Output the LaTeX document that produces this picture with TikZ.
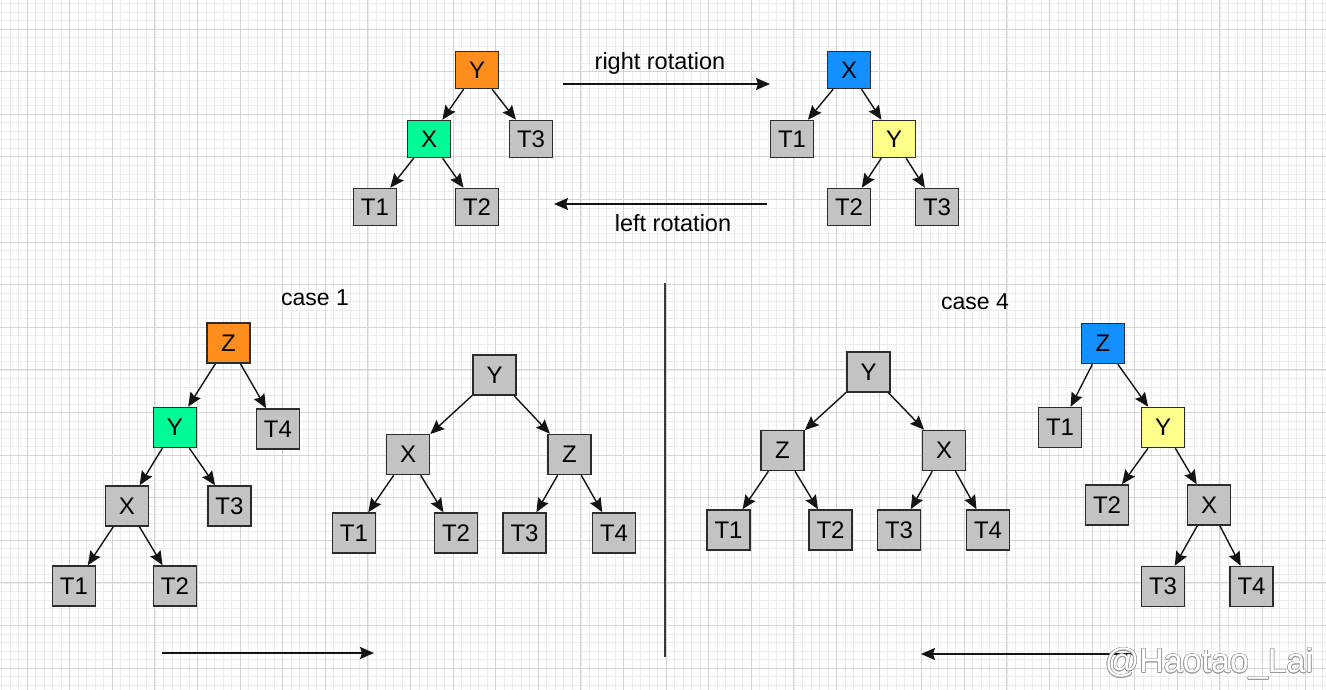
\documentclass[tikz,border=0pt]{standalone}
\usepackage{fontspec}
\setmainfont{Liberation Sans}
\usepackage{contour}
\usetikzlibrary{arrows.meta}
\definecolor{minorgrid}{RGB}{236,236,236}
\definecolor{majorgrid}{RGB}{212,212,212}
\definecolor{boxgray}{RGB}{195,195,195}
\definecolor{boxorange}{RGB}{255,142,30}
\definecolor{boxgreen}{RGB}{0,250,150}
\definecolor{boxblue}{RGB}{18,144,255}
\definecolor{boxyellow}{RGB}{255,255,140}
\definecolor{edgeblack}{RGB}{20,20,20}
\begin{document}
\begin{tikzpicture}[x=1pt,y=-1pt,
  box/.style={draw=edgeblack!90, line width=1.5pt, fill=boxgray, minimum width=43pt,
    minimum height=40pt, inner sep=0pt, font=\fontsize{24}{24}\selectfont},
  topbox/.style={box, minimum height=37pt},
  conn/.style={-{Stealth[length=14pt,width=12pt,inset=2pt]}, line width=1.4pt, draw=edgeblack},
  lbl/.style={font=\fontsize{23.5}{24}\selectfont, inner sep=0pt},
  caselbl/.style={font=\fontsize{23}{24}\selectfont, inner sep=0pt}]
\useasboundingbox (0,0) rectangle (1326,690);
\fill[white] (0,0) rectangle (1326,690);
% grid
\foreach \k in {-3,...,152} \draw[minorgrid, line width=0.6pt] ({27+8.52*\k},0) -- ++(0,690);
\foreach \k in {-3,...,78} \draw[minorgrid, line width=0.6pt] (0,{29+8.52*\k}) -- ++(1326,0);
\foreach \k in {0,...,30} \draw[majorgrid, line width=0.8pt] ({27+42.6*\k},0) -- ++(0,690);
\foreach \k in {0,...,15} \draw[majorgrid, line width=0.8pt] (0,{29+42.6*\k}) -- ++(1326,0);

% top-left tree
\node[topbox, fill=boxorange] (aY) at (477,70) {Y};
\node[topbox, fill=boxgreen] (aX) at (429,139) {X};
\node[topbox] (aT3) at (531,139) {T3};
\node[topbox] (aT1) at (375,207) {T1};
\node[topbox] (aT2) at (477,207) {T2};
\draw[conn] (aY) -- (aX);
\draw[conn] (aY) -- (aT3);
\draw[conn] (aX) -- (aT1);
\draw[conn] (aX) -- (aT2);

% top-right tree
\node[topbox, fill=boxblue] (bX) at (849,70) {X};
\node[topbox] (bT1) at (792,139) {T1};
\node[topbox, fill=boxyellow] (bY) at (894,139) {Y};
\node[topbox] (bT2) at (849,207) {T2};
\node[topbox] (bT3) at (937,207) {T3};
\draw[conn] (bX) -- (bT1);
\draw[conn] (bX) -- (bY);
\draw[conn] (bY) -- (bT2);
\draw[conn] (bY) -- (bT3);

% rotation arrows
\coordinate (r1) at (563,84);
\coordinate (r2) at (770,84);
\coordinate (l1) at (767,204);
\coordinate (l2) at (554,204);
\draw[conn, line width=1.5pt] (r1) -- (r2);
\draw[conn, line width=1.5pt] (l1) -- (l2);
\node[lbl] (rlab) at (660,63) {right rotation};
\node[lbl] (llab) at (673,223) {left rotation};

% case labels
\node[caselbl] (c1lab) at (315,298) {case 1};
\node[caselbl] (c4lab) at (975,302) {case 4};

% case 1 left tree
\node[box, fill=boxorange] (cZ) at (228.5,343) {Z};
\node[box, fill=boxgreen] (cY) at (175,427.5) {Y};
\node[box] (cT4) at (278,429) {T4};
\node[box] (cX) at (127,506) {X};
\node[box] (cT3) at (229.5,506) {T3};
\node[box] (cT1) at (74,586) {T1};
\node[box] (cT2) at (175,586) {T2};
\draw[conn] (cZ) -- (cY);
\draw[conn] (cZ) -- (cT4);
\draw[conn] (cY) -- (cX);
\draw[conn] (cY) -- (cT3);
\draw[conn] (cX) -- (cT1);
\draw[conn] (cX) -- (cT2);

% case 1 right tree
\node[box] (dY) at (494.5,375) {Y};
\node[box] (dX) at (408,454.5) {X};
\node[box] (dZ) at (569.5,454.5) {Z};
\node[box] (dT1) at (354,533) {T1};
\node[box] (dT2) at (456,533) {T2};
\node[box] (dT3) at (524.5,533) {T3};
\node[box] (dT4) at (614,533) {T4};
\draw[conn] (dY) -- (dX);
\draw[conn] (dY) -- (dZ);
\draw[conn] (dX) -- (dT1);
\draw[conn] (dX) -- (dT2);
\draw[conn] (dZ) -- (dT3);
\draw[conn] (dZ) -- (dT4);

% case 4 middle tree
\node[box] (eY) at (868.5,372) {Y};
\node[box] (eZ) at (782.5,450.5) {Z};
\node[box] (eX) at (944,450.5) {X};
\node[box] (eT1) at (728.5,530) {T1};
\node[box] (eT2) at (830.5,530) {T2};
\node[box] (eT3) at (899,530) {T3};
\node[box] (eT4) at (988,530) {T4};
\draw[conn] (eY) -- (eZ);
\draw[conn] (eY) -- (eX);
\draw[conn] (eZ) -- (eT1);
\draw[conn] (eZ) -- (eT2);
\draw[conn] (eX) -- (eT3);
\draw[conn] (eX) -- (eT4);

% case 4 right tree
\node[box, fill=boxblue] (fZ) at (1103,343.5) {Z};
\node[box] (fT1) at (1060,427.5) {T1};
\node[box, fill=boxyellow] (fY) at (1163,427.5) {Y};
\node[box] (fT2) at (1107,505) {T2};
\node[box] (fX) at (1209,505) {X};
\node[box] (fT3) at (1163,586.5) {T3};
\node[box] (fT4) at (1251.5,586.5) {T4};
\draw[conn] (fZ) -- (fT1);
\draw[conn] (fZ) -- (fY);
\draw[conn] (fY) -- (fT2);
\draw[conn] (fY) -- (fX);
\draw[conn] (fX) -- (fT3);
\draw[conn] (fX) -- (fT4);

% divider
\coordinate (dv1) at (665,283);
\coordinate (dv2) at (665,657);
\draw[edgeblack!85, line width=1.5pt] (dv1) -- (dv2);

% bottom arrows
\coordinate (b1s) at (162,653);
\coordinate (b1e) at (374,653);
\coordinate (b2s) at (1132,654);
\coordinate (b2e) at (921,654);
\draw[conn, line width=1.5pt] (b1s) -- (b1e);
\draw[conn, line width=1.5pt] (b2s) -- (b2e);

% watermark
\contourlength{0.6pt}
\node[inner sep=0pt, font=\fontsize{34}{34}\selectfont] (wm) at (1209,664)
  {\contour{black!40}{\textcolor{white}{@Haotao\_Lai}}};
\end{tikzpicture}
\end{document}
